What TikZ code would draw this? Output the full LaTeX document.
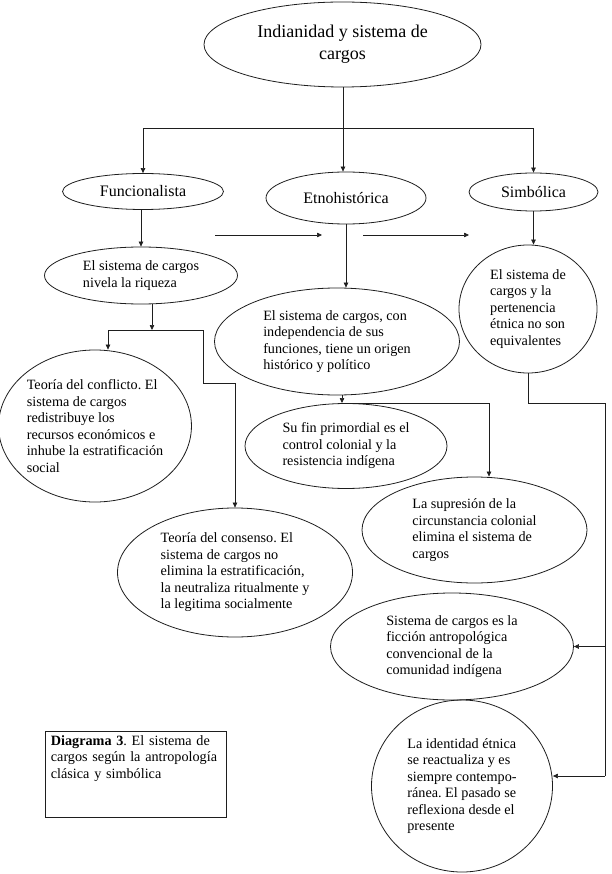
\documentclass[tikz,border=0pt]{standalone}
\usepackage{fontspec}
\setmainfont{Liberation Serif}
\frenchspacing
\usetikzlibrary{arrows.meta,shapes.geometric}
\definecolor{ink}{HTML}{1E1E1E}
\tikzset{
  ovalbox/.style={
    ellipse,
    draw=ink,
    line width=0.8pt,
    inner sep=0pt,
    align=left,
    font=\fontsize{14.2}{16.5}\selectfont
  },
  headbox/.style={
    ellipse,
    draw=ink,
    line width=0.8pt,
    inner sep=0pt,
    align=center,
    font=\fontsize{16}{19}\selectfont
  },
  notebox/.style={
    rectangle,
    draw=ink,
    line width=0.8pt,
    anchor=north west,
    text width=170pt,
    inner xsep=5.5pt,
    inner ysep=4pt,
    text height=10pt,
    text depth=68pt,
    align=left,
    font=\fontsize{14.2}{16.5}\selectfont
  },
  linkar/.style={-{Triangle[length=5pt,width=4.5pt]},line width=0.6pt,draw=ink},
  linkline/.style={line width=0.6pt,draw=ink}
}

\begin{document}
\begin{tikzpicture}[x=1pt,y=-1pt]
  \useasboundingbox (0,0) rectangle (611,874);

  \node[headbox,minimum width=277pt,minimum height=85pt,font=\fontsize{18}{22}\selectfont] (top) at (342.5,44.5) {Indianidad y sistema de\\cargos};

  \node[headbox,minimum width=161pt,minimum height=36pt] (func) at (143,191.5) {Funcionalista};
  \node[headbox,minimum width=160pt,minimum height=52pt] (etno) at (346,198) {Etnohistórica};
  \node[headbox,minimum width=129pt,minimum height=38pt] (simb) at (533.5,192) {Simbólica};

  \node[ovalbox,minimum width=193pt,minimum height=57pt]  (niv)   at (141,275.5) {El sistema de cargos\\nivela la riqueza};
  \node[ovalbox,minimum width=245pt,minimum height=107pt] (mid)   at (337,341.5) {El sistema de cargos, con\\independencia de sus\\funciones, tiene un origen\\histórico y político};
  \node[ovalbox,minimum width=138pt,minimum height=128pt] (pert)  at (528,309) {El sistema de\\cargos y la\\pertenencia\\étnica no son\\equivalentes};
  \node[ovalbox,minimum width=185pt,minimum height=152pt] (confl) at (95,426) {Teoría del conflicto. El\\sistema de cargos\\redistribuye los\\recursos económicos e\\inhube la estratificación\\social};
  \node[ovalbox,minimum width=202pt,minimum height=85pt]  (sufin) at (346,446) {Su fin primordial es el\\control colonial y la\\resistencia indígena};
  \node[ovalbox,minimum width=225pt,minimum height=106pt] (supr)  at (474.5,530) {La supresión de la\\circunstancia colonial\\elimina el sistema de\\cargos};
  \node[ovalbox,minimum width=235pt,minimum height=129pt] (cons)  at (235,572.5) {Teoría del consenso. El\\sistema de cargos no\\elimina la estratificación,\\la neutraliza ritualmente y\\la legitima socialmente};
  \node[ovalbox,minimum width=243pt,minimum height=107pt] (ficc)  at (452,646.5) {Sistema de cargos es la\\ficción antropológica\\convencional de la\\comunidad indígena};
  \node[ovalbox,minimum width=181pt,minimum height=172pt] (ident) at (462,786) {La identidad étnica\\se reactualiza y es\\siempre contempo-\\ránea. El pasado se\\reflexiona desde el\\presente};

  \node[notebox] (caption) at (45,731) {\textbf{Diagrama 3}. El sistema de\\cargos según la antropología\\clásica y simbólica};

  \coordinate (bar)    at (343,128);
  \coordinate (h1s)    at (215,235);
  \coordinate (h1e)    at (322,235);
  \coordinate (h2s)    at (363,235);
  \coordinate (h2e)    at (469,235);
  \coordinate (fork)   at (152,330);
  \coordinate (fl)     at (108,330);
  \coordinate (fr)     at (203,330);
  \coordinate (mfork)  at (342,403);
  \coordinate (mforkR) at (489,403);
  \coordinate (rr)     at (605,403);
  \coordinate (rb)     at (605,776);

  \draw[linkline] (top.south -| bar) -- (bar);
  \draw[linkar] (bar) -| (func);
  \draw[linkar] (bar) -| (simb);
  \draw[linkar] (bar) -- (bar |- etno.north);
  \draw[linkar] (h1s) -- (h1e);
  \draw[linkar] (h2s) -- (h2e);

  \draw[linkar] (func.south -| niv) -- (niv);
  \draw[linkar] (etno.south) -- (etno.south |- mid.north);
  \draw[linkar] (simb.south) -- (simb.south |- pert.north);

  \draw[linkar] (fork |- niv.south) -- (fork);
  \draw[linkline] (fl) -- (fr);
  \draw[linkar] (fl) -- (fl |- confl.north);
  \draw[linkar] (fr) -- ++(0,53) -| (cons.north);

  \draw[linkar] (mfork |- mid.south) -- (mfork);
  \draw[linkar] (mfork) -- (mforkR) -- (mforkR |- supr.north);

  \draw[linkline] (pert.south) |- (rr) -- (rb);
  \draw[linkar] (rr |- ficc.east) -- (ficc.east);
  \draw[linkar] (rb) -- (rb -| ident.east);
\end{tikzpicture}
\end{document}
